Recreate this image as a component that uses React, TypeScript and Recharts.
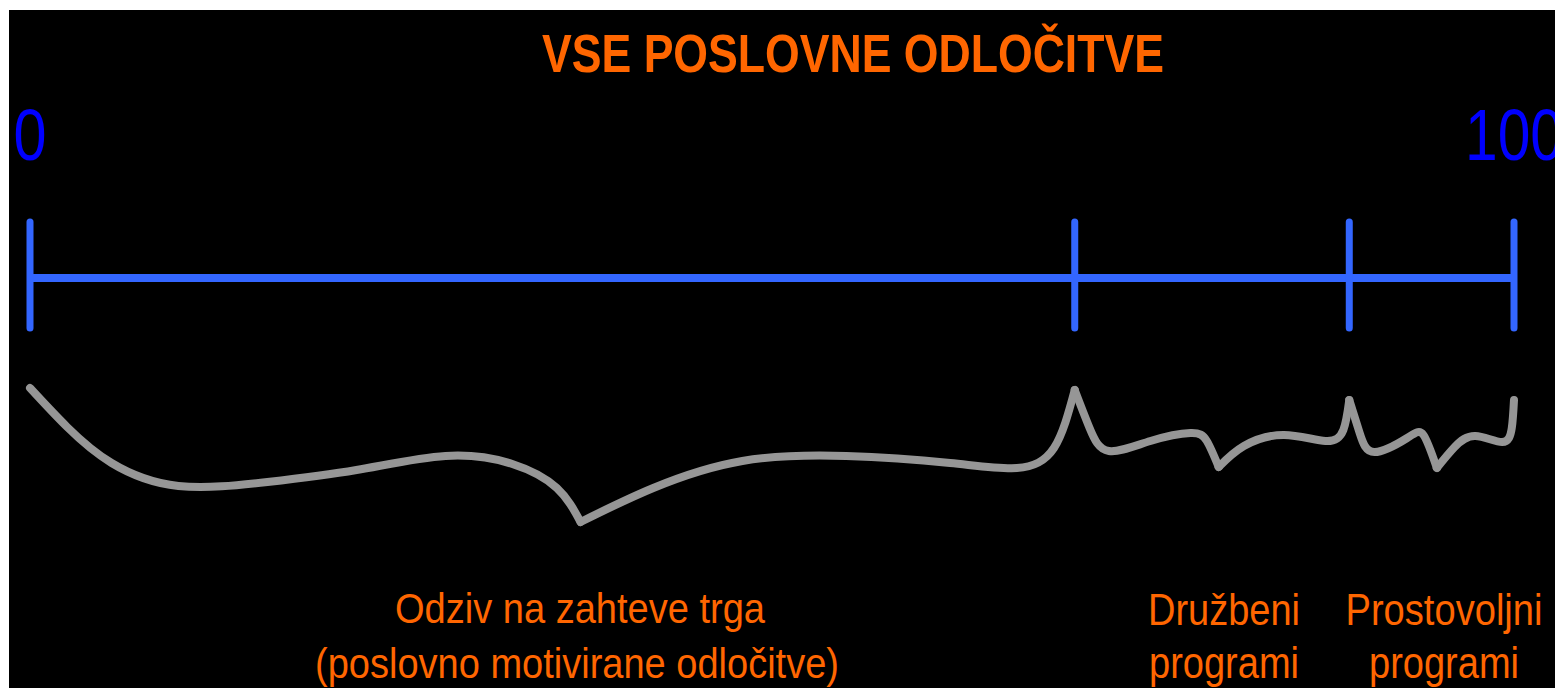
import React from 'react';
import { ComposedChart, Line, XAxis, YAxis } from 'recharts';

// scale from 0 to 100, with the split points between the three groups
const scaleEnds = [0, 100];
const splitPoints = [0, 70.4, 88.9, 100];
const tickReach = [-56, 50]; // how far the tick marks run above/below the line

// brace pieces (x on the 0..100 scale, d = depth below the line)
const braceMarket = [
  { x: 0, d: 110 }, { x: 2.5, d: 149 }, { x: 5.5, d: 185 },
  { x: 10.0, d: 208 }, { x: 16.0, d: 204 }, { x: 22.0, d: 192 },
  { x: 28.0, d: 178 }, { x: 32.5, d: 186 }, { x: 35.5, d: 210 },
  { x: 37.1, d: 244 },
];
const braceMarketRight = [
  { x: 37.1, d: 244 }, { x: 42.0, d: 210 }, { x: 48.0, d: 183 },
  { x: 55.0, d: 178 }, { x: 62.0, d: 185 }, { x: 66.5, d: 190 },
  { x: 69.0, d: 170 }, { x: 70.4, d: 112 },
];
const braceSocialLeft = [
  { x: 70.4, d: 112 }, { x: 71.4, d: 150 }, { x: 72.7, d: 173 },
  { x: 75.5, d: 163 }, { x: 78.2, d: 155 }, { x: 79.3, d: 163 }, { x: 80.1, d: 189 },
];
const braceSocialRight = [
  { x: 80.1, d: 189 }, { x: 81.8, d: 168 }, { x: 84.5, d: 157 },
  { x: 87.3, d: 163 }, { x: 88.5, d: 152 }, { x: 88.9, d: 122 },
];
const braceVolunteerLeft = [
  { x: 88.9, d: 122 }, { x: 89.6, d: 155 }, { x: 90.6, d: 174 },
  { x: 92.8, d: 160 }, { x: 93.9, d: 157 }, { x: 94.8, d: 190 },
];
const braceVolunteerRight = [
  { x: 94.8, d: 190 }, { x: 96.0, d: 169 }, { x: 97.4, d: 158 },
  { x: 99.2, d: 164 }, { x: 99.85, d: 150 }, { x: 100, d: 122 },
];

const bracePieces = [
  braceMarket, braceMarketRight, braceSocialLeft,
  braceSocialRight, braceVolunteerLeft, braceVolunteerRight,
];

const title = 'VSE POSLOVNE ODLOČITVE';
const marketLabel = ['Odziv na zahteve trga', '(poslovno motivirane odločitve)'];
const socialLabel = ['Družbeni', 'programi'];
const volunteerLabel = ['Prostovoljni', 'programi'];

const narrow = "'Liberation Sans Narrow', 'Arial Narrow', 'Liberation Sans', Arial, sans-serif";
const orange = '#ff6600';

const W = 1546;
const H = 678;

const EndTick = (props: any) => {
  const { x, y, payload } = props;
  const len = payload.value === 100 ? 98 : 33;
  return (
    <text
      x={x}
      y={y}
      textAnchor="middle"
      fill="#0000ff"
      fontSize={72}
      fontFamily={narrow}
      textLength={len}
      lengthAdjust="spacingAndGlyphs"
    >
      {payload.value}
    </text>
  );
};

const Words = ({ x, y, size, len, bold, children }: any) => (
  <text
    x={x}
    y={y}
    textAnchor="middle"
    fill={orange}
    fontSize={size}
    fontWeight={bold ? 'bold' : 'normal'}
    fontFamily={narrow}
    textLength={len}
    lengthAdjust="spacingAndGlyphs"
  >
    {children}
  </text>
);

export default function App() {
  const axisLine = scaleEnds.map((x) => ({ x, d: 0 }));

  return (
    <div style={{ position: 'absolute', left: 9, top: 10, width: W, height: H, background: '#000' }}>
      <ComposedChart width={W} height={H} margin={{ top: 0, right: 41, left: 21, bottom: 0 }}>
        <XAxis
          xAxisId={0}
          orientation="top"
          type="number"
          dataKey="x"
          domain={[0, 100]}
          ticks={scaleEnds}
          height={150}
          axisLine={false}
          tickLine={false}
          tickSize={0}
          tickMargin={0}
          tick={<EndTick />}
          interval={0}
        />
        <YAxis yAxisId={0} hide width={0} type="number" domain={[-118, 410]} reversed />
        <Line
          data={axisLine}
          dataKey="d"
          type="linear"
          stroke="#3366ff"
          strokeWidth={8}
          dot={false}
          isAnimationActive={false}
        />
        {splitPoints.map((t) => (
          <Line
            key={`tick-${t}`}
            data={tickReach.map((d) => ({ x: t, d }))}
            dataKey="d"
            type="linear"
            stroke="#3366ff"
            strokeWidth={7}
            strokeLinecap="round"
            dot={false}
            isAnimationActive={false}
          />
        ))}
        {bracePieces.map((piece, i) => (
          <Line
            key={`brace-${i}`}
            data={piece}
            dataKey="d"
            type="natural"
            stroke="#969696"
            strokeWidth={8}
            strokeLinecap="round"
            strokeLinejoin="round"
            dot={false}
            isAnimationActive={false}
          />
        ))}
      </ComposedChart>
      <svg
        width={W}
        height={H}
        style={{ position: 'absolute', left: 0, top: 0, pointerEvents: 'none' }}
      >
        <Words x={844} y={62} size={54} len={622} bold>
          {title}
        </Words>
        <Words x={571} y={613} size={43} len={370}>
          {marketLabel[0]}
        </Words>
        <Words x={568} y={668} size={43} len={524}>
          {marketLabel[1]}
        </Words>
        <Words x={1215} y={615} size={45} len={152}>
          {socialLabel[0]}
        </Words>
        <Words x={1215} y={668} size={45} len={150}>
          {socialLabel[1]}
        </Words>
        <Words x={1435} y={615} size={45} len={197}>
          {volunteerLabel[0]}
        </Words>
        <Words x={1435} y={668} size={45} len={150}>
          {volunteerLabel[1]}
        </Words>
      </svg>
    </div>
  );
}
